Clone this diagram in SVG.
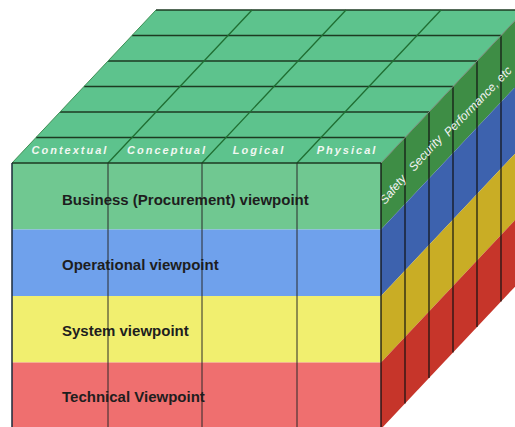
<svg xmlns="http://www.w3.org/2000/svg" width="515" height="427" viewBox="0 0 515 427">
<style>
.top{fill:#5dc38d}
.hline{stroke:#1d3a22;stroke-width:1.3;fill:none}
.sline{stroke:#1f6e32;stroke-width:1.3;fill:none}
.col{stroke:#2a2a2a;stroke-width:1;fill:none}
.rcol{stroke:#111;stroke-width:1.2;fill:none}
.toplab{font-family:"Liberation Sans",Arial,sans-serif;font-size:11px;font-weight:bold;font-style:italic;fill:#f2f7f2;letter-spacing:2px;text-anchor:middle}
.sidelab{font-family:"Liberation Sans",Arial,sans-serif;font-size:12px;font-style:italic;fill:#f4f4f4}
.frontlab{font-family:"Liberation Sans",Arial,sans-serif;font-size:15px;font-weight:bold;fill:#1e1e1e}
</style>
<rect width="515" height="427" fill="#ffffff"/>
<g id="top-face">
  <polygon class="top" points="12,163 381,163 525,10 156,10"/>
  <g>
    <line class="hline" x1="156" y1="10" x2="525" y2="10"/>
    <line class="hline" x1="132" y1="35.5" x2="501" y2="35.5"/>
    <line class="hline" x1="108" y1="61" x2="477" y2="61"/>
    <line class="hline" x1="84" y1="86.5" x2="453" y2="86.5"/>
    <line class="hline" x1="60" y1="112" x2="429" y2="112"/>
    <line class="hline" x1="36" y1="137.5" x2="405" y2="137.5"/>
  </g>
  <g>
    <line class="sline" x1="108" y1="163" x2="252" y2="10"/>
    <line class="sline" x1="202" y1="163" x2="346" y2="10"/>
    <line class="sline" x1="297" y1="163" x2="441" y2="10"/>
    <line x1="12" y1="163" x2="156" y2="10" stroke="#3f8f55" stroke-width="1"/>
  </g>
  <g id="top-labels">
    <text class="toplab" x="70" y="154">Contextual</text>
    <text class="toplab" x="167" y="154">Conceptual</text>
    <text class="toplab" x="259" y="154">Logical</text>
    <text class="toplab" x="347" y="154">Physical</text>
  </g>
</g>
<g id="right-face">
  <polygon fill="#3e8d45" points="381,163 525,10 525,76.5 381,229.5"/>
  <polygon fill="#3d62ae" points="381,229.5 525,76.5 525,143 381,296"/>
  <polygon fill="#c9ad25" points="381,296 525,143 525,209.5 381,362.5"/>
  <polygon fill="#c6352a" points="381,362.5 525,209.5 525,276 381,429"/>
  <g>
    <line class="rcol" x1="405" y1="137.5" x2="405" y2="403.5"/>
    <line class="rcol" x1="429" y1="112" x2="429" y2="378"/>
    <line class="rcol" x1="453" y1="86.5" x2="453" y2="352.5"/>
    <line class="rcol" x1="477" y1="61" x2="477" y2="327"/>
    <line class="rcol" x1="501" y1="35.5" x2="501" y2="301.5"/>
  </g>
  <line x1="381" y1="163" x2="525" y2="10" stroke="#7a8a7a" stroke-width="1"/>
  <g id="side-labels">
    <text class="sidelab" transform="translate(385,205) rotate(-50)">Safety</text>
    <text class="sidelab" transform="translate(414,172) rotate(-48)">Security</text>
    <text class="sidelab" transform="translate(449,137) rotate(-46)">Performance, etc</text>
  </g>
</g>
<g id="front-face">
  <rect x="12" y="163" width="369" height="66.5" fill="#70c891"/>
  <rect x="12" y="229.5" width="369" height="66.5" fill="#6fa1ec"/>
  <rect x="12" y="296" width="369" height="66.5" fill="#f1ef6f"/>
  <rect x="12" y="362.5" width="369" height="66.5" fill="#ef6f6f"/>
  <g>
    <line class="col" x1="108" y1="163" x2="108" y2="429"/>
    <line class="col" x1="202" y1="163" x2="202" y2="429"/>
    <line class="col" x1="297" y1="163" x2="297" y2="429"/>
  </g>
  <line x1="12" y1="163" x2="381" y2="163" stroke="#1d3a22" stroke-width="1.5"/>
  <line x1="12" y1="163" x2="12" y2="429" stroke="#1a2a3a" stroke-width="1.5"/>
  <line x1="381" y1="163" x2="381" y2="429" stroke="#111" stroke-width="1.3"/>
  <g id="front-labels">
    <text class="frontlab" x="62" y="205">Business (Procurement) viewpoint</text>
    <text class="frontlab" x="62" y="270">Operational viewpoint</text>
    <text class="frontlab" x="62" y="336">System viewpoint</text>
    <text class="frontlab" x="62" y="402">Technical Viewpoint</text>
  </g>
</g>
</svg>
